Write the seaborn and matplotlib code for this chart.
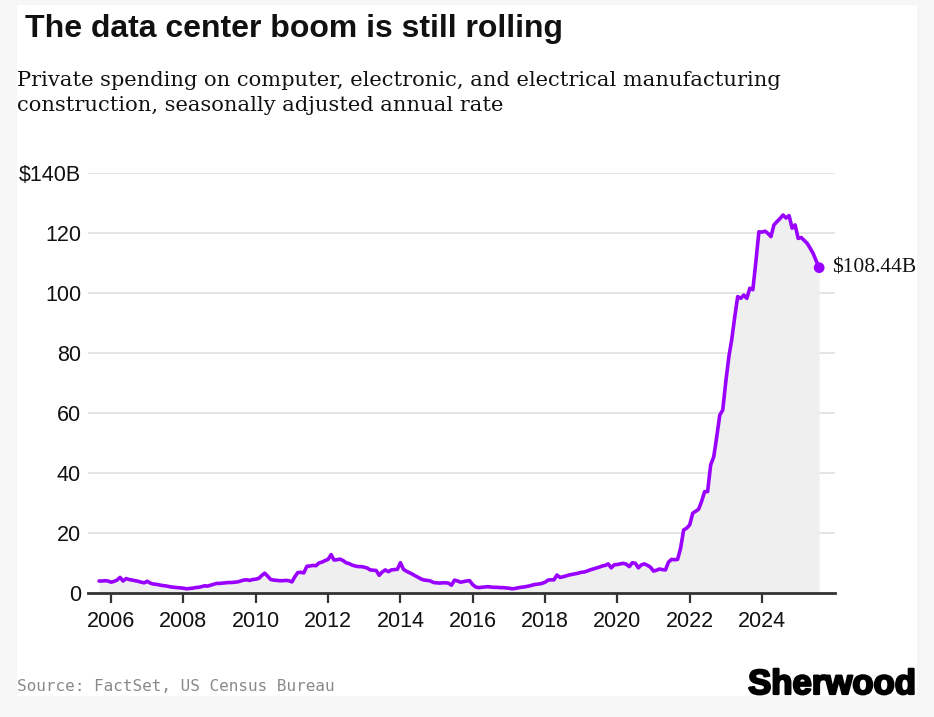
import numpy as np
import pandas as pd
import matplotlib
matplotlib.use("Agg")
import matplotlib.pyplot as plt
import matplotlib.dates as mdates
import matplotlib.patheffects as pe
from matplotlib.patches import Rectangle
import seaborn as sns

# ---- data (billions of dollars, SAAR), monthly Sep 2005 - Aug 2025 ----
start_month = "2005-09-01"
v2005 = [4.0, 4.0, 4.1, 4.0]
v2006 = [3.6, 3.9, 4.3, 5.2, 4.0, 4.8, 4.5, 4.3, 4.1, 3.9, 3.6, 3.4]
v2007 = [3.9, 3.3, 3.0, 2.9, 2.7, 2.5, 2.4, 2.2, 2.0, 1.9, 1.8, 1.7]
v2008 = [1.6, 1.4, 1.5, 1.6, 1.8, 1.9, 2.1, 2.4, 2.3, 2.6, 2.9, 3.2]
v2009 = [3.2, 3.3, 3.4, 3.5, 3.5, 3.6, 3.7, 4.0, 4.3, 4.4, 4.2, 4.5]
v2010 = [4.6, 4.9, 5.8, 6.6, 5.6, 4.5, 4.3, 4.2, 4.1, 4.1, 4.2, 4.1]
v2011 = [3.7, 5.5, 6.8, 6.9, 6.7, 8.9, 9.0, 9.2, 9.1, 10.0, 10.3, 10.8]
v2012 = [11.2, 12.8, 11.0, 11.1, 11.3, 10.8, 10.1, 9.8, 9.3, 9.0, 8.8, 8.8]
v2013 = [8.6, 8.3, 7.7, 7.6, 7.5, 5.9, 7.0, 7.7, 7.1, 7.7, 7.8, 7.9]
v2014 = [10.1, 7.9, 7.3, 6.8, 6.3, 5.7, 5.2, 4.6, 4.3, 4.2, 4.0, 3.5]
v2015 = [3.4, 3.3, 3.4, 3.4, 3.3, 2.6, 4.3, 4.0, 3.6, 3.8, 4.0, 4.1]
v2016 = [2.8, 2.0, 1.8, 1.9, 2.0, 2.1, 2.0, 1.9, 1.9, 1.8, 1.8, 1.7]
v2017 = [1.6, 1.4, 1.5, 1.7, 1.9, 2.0, 2.2, 2.4, 2.7, 2.9, 3.0, 3.2]
v2018 = [3.6, 4.3, 4.4, 4.4, 6.0, 5.2, 5.4, 5.7, 6.0, 6.2, 6.4, 6.6]
v2019 = [6.9, 7.0, 7.3, 7.7, 8.0, 8.3, 8.6, 9.0, 9.2, 9.7, 8.4, 9.4]
v2020 = [9.5, 9.7, 9.9, 9.6, 8.8, 10.1, 9.9, 8.4, 9.4, 9.7, 9.2, 8.6]
v2021 = [7.3, 7.6, 8.0, 7.8, 7.7, 10.3, 11.2, 11.1, 11.2, 14.9, 21.0, 21.6]
v2022 = [22.7, 26.6, 27.2, 27.9, 30.5, 33.8, 33.8, 42.7, 45.4, 52.0, 59.3, 61.0]
v2023 = [70.5, 78.8, 84.3, 92.0, 98.8, 98.2, 99.3, 98.2, 101.6, 101.1, 110.5, 120.4]
v2024 = [120.3, 120.6, 119.9, 118.8, 122.7, 123.8, 124.8, 126.0, 125.0, 125.8, 121.6, 122.7]
v2025 = [118.2, 118.5, 117.6, 116.6, 115.0, 113.2, 110.8, 108.44]

values = (v2005 + v2006 + v2007 + v2008 + v2009 + v2010 + v2011 + v2012 + v2013
          + v2014 + v2015 + v2016 + v2017 + v2018 + v2019 + v2020 + v2021 + v2022
          + v2023 + v2024 + v2025)
dates = pd.date_range(start_month, periods=len(values), freq="MS")
df = pd.DataFrame({"date": dates, "value": values})

y_ticks = [0, 20, 40, 60, 80, 100, 120, 140]
y_labels = ["0", "20", "40", "60", "80", "100", "120", "$140B"]
x_tick_years = [2006, 2008, 2010, 2012, 2014, 2016, 2018, 2020, 2022, 2024]

title = "The data center boom is still rolling"
subtitle_1 = "Private spending on computer, electronic, and electrical manufacturing"
subtitle_2 = "construction, seasonally adjusted annual rate"
source = "Source: FactSet, US Census Bureau"
end_label = "$108.44B"
logo = "Sherwood"

LINE = "#9900ff"
W, H = 934, 717

sns.set_theme(style="white")
plt.rcParams["font.family"] = ["Liberation Sans", "DejaVu Sans"]

fig = plt.figure(figsize=(W / 100, H / 100), dpi=100)
fig.patch.set_facecolor("#f6f6f6")
panel = Rectangle((17 / W, 1 - 696 / H), 900 / W, 691 / H,
                  transform=fig.transFigure, facecolor="white",
                  edgecolor="none", zorder=-10)
fig.patches.append(panel)

def px(x, y):
    return x / W, 1 - y / H

ax = fig.add_axes([88 / W, 1 - 593 / H, (835 - 88) / W, (593 - 173) / H])
ax.set_facecolor("none")
ax.set_zorder(1)

ax.fill_between(df["date"], 0, df["value"], color="#efefef", linewidth=0, zorder=1)
sns.lineplot(data=df, x="date", y="value", ax=ax, color=LINE, linewidth=2.6,
             zorder=3, legend=False)
ax.scatter([df["date"].iloc[-1]], [df["value"].iloc[-1]], s=60, color=LINE,
           zorder=4, edgecolor="none", clip_on=False)
ax.annotate(end_label, (df["date"].iloc[-1], df["value"].iloc[-1]),
            xytext=(9, 0), textcoords="offset points", va="center", ha="left",
            fontsize=15.5, family=["Liberation Serif", "DejaVu Serif"], color="#111111")

ax.set_xlim(pd.Timestamp("2005-05-12"), pd.Timestamp("2026-01-08"))
ax.set_ylim(0, 140)
ax.set_yticks(y_ticks)
ax.set_yticklabels(y_labels)
ax.set_xticks([pd.Timestamp(f"{y}-01-01") for y in x_tick_years])
ax.xaxis.set_major_formatter(mdates.DateFormatter("%Y"))
ax.set_xlabel("")
ax.set_ylabel("")

for y in y_ticks[1:]:
    ax.axhline(y, color="#e5e5e5", linewidth=1.4, zorder=0.5)

for s in ["top", "right", "left"]:
    ax.spines[s].set_visible(False)
ax.spines["bottom"].set_color("#333333")
ax.spines["bottom"].set_linewidth(2)
ax.spines["bottom"].set_zorder(5)

ax.tick_params(axis="x", which="major", length=7, width=1.6, color="#333333",
               direction="out", bottom=True, labelsize=15.5, labelcolor="#111111", pad=6)
ax.tick_params(axis="y", length=0, labelsize=15.5, labelcolor="#111111", pad=5)

fig.text(*px(25, 37), title, fontsize=23, fontweight="bold", color="#111111",
         va="baseline", ha="left")
fig.text(*px(17, 86), subtitle_1, fontsize=15.1, family=["DejaVu Serif"], color="#111111",
         va="baseline", ha="left")
fig.text(*px(17, 111), subtitle_2, fontsize=15.1, family=["DejaVu Serif"], color="#111111",
         va="baseline", ha="left")
fig.text(*px(17, 691), source, fontsize=11.5, family=["DejaVu Sans Mono"], color="#8a8a8a",
         va="baseline", ha="left")
fig.text(*px(916, 694), logo, fontsize=25, fontweight="heavy", color="#000000",
         va="baseline", ha="right",
         path_effects=[pe.withStroke(linewidth=1.6, foreground="#000000")])

fig.savefig("out.png", dpi=100, facecolor=fig.get_facecolor())
